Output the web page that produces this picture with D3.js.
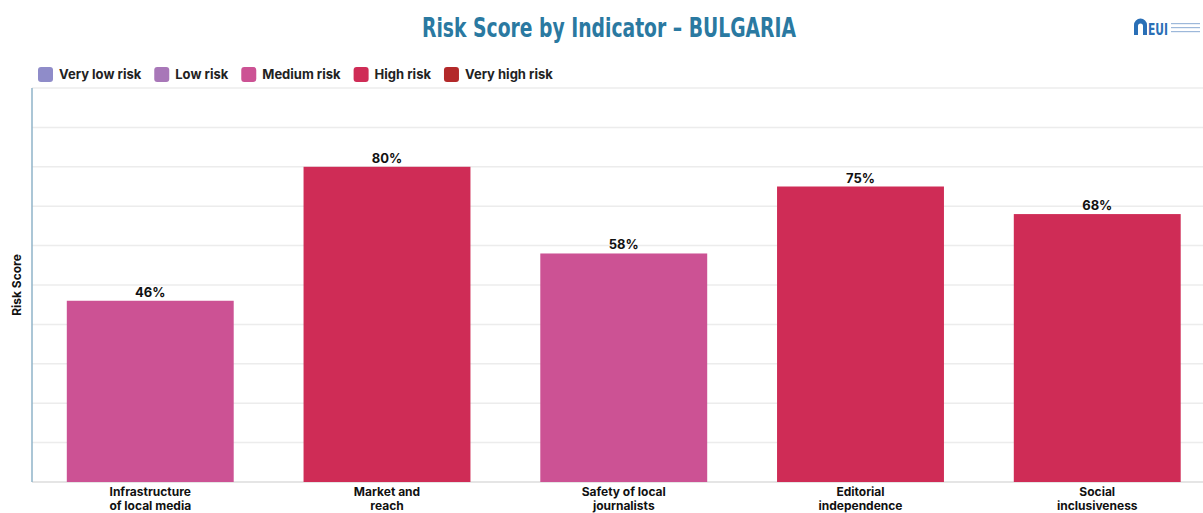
<!DOCTYPE html>
<html>
<head>
<meta charset="utf-8">
<script src="https://d3js.org/d3.v7.min.js"></script>
<style>
  body { margin: 0; background: #fff; }
  svg { display: block; font-family: "Inter", "Roboto", sans-serif; }
</style>
</head>
<body>
<svg id="chart" width="1203" height="513"></svg>
<script>
// chart data
const indicators = [
  ["Infrastructure", "of local media"],
  ["Market and", "reach"],
  ["Safety of local", "journalists"],
  ["Editorial", "independence"],
  ["Social", "inclusiveness"]
];
const scores = [46, 80, 58, 75, 68];
const riskLevels = ["Medium risk", "High risk", "Medium risk", "High risk", "High risk"];

const legendLabels = ["Very low risk", "Low risk", "Medium risk", "High risk", "Very high risk"];
const legendColors = ["#8f8cc9", "#a877b8", "#cc5294", "#cf2c56", "#b3292a"];
const yTicks = [0, 10, 20, 30, 40, 50, 60, 70, 80, 90, 100];

const svg = d3.select("#chart");
const m = {left: 32, top: 88, bottom: 482};
const step = 236.7;

// scales
let x = d3.scaleBand()
  .domain(d3.range(scores.length))
  .range([m.left, m.left + step * scores.length])
  .paddingInner(0.295)
  .paddingOuter(0.147);
let y = d3.scaleLinear().domain([0, 100]).range([m.bottom, m.top]);
let color = d3.scaleOrdinal().domain(legendLabels).range(legendColors);

// title (condensed look)
svg.append("text")
  .attr("x", 609)
  .attr("y", 37)
  .attr("text-anchor", "middle")
  .attr("font-family", "'DejaVu Sans', sans-serif")
  .attr("font-weight", "bold")
  .attr("font-size", 27)
  .attr("textLength", 374)
  .attr("lengthAdjust", "spacingAndGlyphs")
  .attr("fill", "#2a79a1")
  .text("Risk Score by Indicator – BULGARIA");

// logo (rough)
let logo = svg.append("g").attr("transform", "translate(1134,18)");
logo.append("path")
  .attr("d", "M0,17 V7 A6.5,6.5 0 0 1 13,7 V17 H9 V8 A2.5,2.5 0 0 0 4,8 V17 Z")
  .attr("fill", "#2a6fb6");
logo.append("text")
  .attr("x", 14).attr("y", 17)
  .attr("font-family", "'DejaVu Sans', sans-serif")
  .attr("font-weight", "bold").attr("font-size", 15)
  .attr("textLength", 20).attr("lengthAdjust", "spacingAndGlyphs")
  .attr("fill", "#2a6fb6").text("EUI");
[5, 9, 13].forEach(function(dy){
  logo.append("rect").attr("x", 37).attr("y", dy).attr("width", 29).attr("height", 1.2)
    .attr("fill", "#9db8da");
});

// legend
let lg = svg.append("g").attr("transform", "translate(38,67)");
let lx = 0;
legendLabels.forEach(function(l){
  let item = lg.append("g").attr("transform", "translate(" + lx + ",0)");
  item.append("rect").attr("width", 15).attr("height", 15).attr("rx", 3)
    .attr("fill", color(l));
  let t = item.append("text").attr("x", 21).attr("y", 12)
    .attr("font-size", 13).attr("font-weight", "bold").attr("fill", "#222")
    .text(l);
  lx += 21 + t.node().getComputedTextLength() + 13;
});

// grid lines
svg.append("g").selectAll("line")
  .data(yTicks)
  .join("line")
  .attr("x1", m.left).attr("x2", 1203)
  .attr("y1", d => y(d)).attr("y2", d => y(d))
  .attr("stroke", d => d === 0 ? "#dcdcdc" : "#ececec")
  .attr("stroke-width", 1.5);

// y axis line
svg.append("line")
  .attr("x1", m.left).attr("x2", m.left)
  .attr("y1", y(100)).attr("y2", y(0))
  .attr("stroke", "#8fb3c9").attr("stroke-width", 1.5);

svg.append("text")
  .attr("transform", "translate(21," + y(50) + ") rotate(-90)")
  .attr("text-anchor", "middle")
  .attr("font-size", 12).attr("font-weight", "bold").attr("fill", "#111")
  .text("Risk Score");

// bars
svg.append("g").selectAll("rect")
  .data(scores)
  .join("rect")
  .attr("x", (d, i) => x(i))
  .attr("y", d => y(d))
  .attr("width", x.bandwidth())
  .attr("height", d => y(0) - y(d))
  .attr("fill", (d, i) => color(riskLevels[i]));

// value labels
svg.append("g").selectAll("text")
  .data(scores)
  .join("text")
  .attr("x", (d, i) => x(i) + x.bandwidth() / 2)
  .attr("y", d => y(d) - 4)
  .attr("text-anchor", "middle")
  .attr("font-size", 13).attr("font-weight", "bold").attr("fill", "#111")
  .text(d => d + "%");

// category labels
let cl = svg.append("g").selectAll("text")
  .data(indicators)
  .join("text")
  .attr("text-anchor", "middle")
  .attr("font-size", 12).attr("font-weight", "bold").attr("fill", "#111");
cl.each(function(d, i){
  let t = d3.select(this);
  d.forEach(function(line, j){
    t.append("tspan")
      .attr("x", x(i) + x.bandwidth() / 2)
      .attr("y", 496 + j * 13.5)
      .text(line);
  });
});
</script>
</body>
</html>
